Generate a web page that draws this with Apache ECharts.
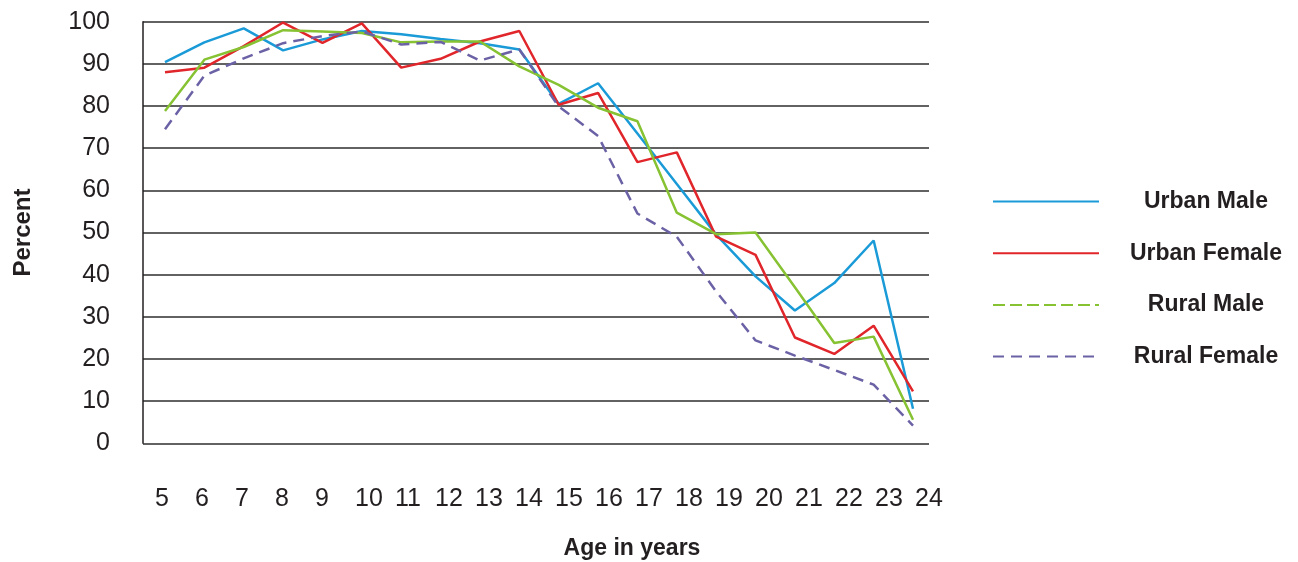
<!DOCTYPE html>
<html>
<head>
<meta charset="utf-8">
<script src="https://cdn.jsdelivr.net/npm/echarts@6/dist/echarts.min.js"></script>
<style>
  html, body { margin: 0; padding: 0; background: #fff; }
  #chart { width: 1298px; height: 562px; }
</style>
</head>
<body>
<div id="chart"></div>
<script>
const ages = [5, 6, 7, 8, 9, 10, 11, 12, 13, 14, 15, 16, 17, 18, 19, 20, 21, 22, 23, 24];
const urbanMale   = [90.4, 95.1, 98.4, 93.2, 95.8, 97.8, 97.0, 95.9, 94.9, 93.4, 80.5, 85.4, 73.5, 61.5, 49.5, 39.6, 31.5, 38.0, 48.1, 8.2];
const urbanFemale = [88.0, 89.1, 94.2, 99.8, 95.0, 99.6, 89.1, 91.2, 95.3, 97.8, 80.3, 83.1, 66.7, 69.0, 49.0, 44.7, 25.1, 21.2, 27.9, 12.3];
const ruralMale   = [78.8, 91.0, 94.0, 98.0, 97.7, 97.3, 95.1, 95.3, 95.3, 89.4, 85.0, 79.6, 76.4, 54.7, 49.6, 50.0, 37.0, 23.8, 25.3, 5.6];
const ruralFemale = [74.5, 87.2, 91.3, 94.9, 96.6, 97.7, 94.6, 95.2, 90.8, 93.4, 79.9, 72.9, 54.5, 49.0, 36.0, 24.4, 20.8, 17.4, 13.9, 4.2];
const yTicks = [0, 10, 20, 30, 40, 50, 60, 70, 80, 90, 100];

const seriesNames = ['Urban Male', 'Urban Female', 'Rural Male', 'Rural Female'];
const seriesValues = [urbanMale, urbanFemale, ruralMale, ruralFemale];
const colors = ['#1a9bd7', '#e1262b', '#86c232', '#6b62a6'];
const dashes = ['solid', 'solid', 'solid', [11, 7]];

const txt = '#231f20';
const chart = echarts.init(document.getElementById('chart'), null, { renderer: 'canvas' });

const pair = vals => ages.map((a, i) => [a, vals[i]]);
const hiddenDot = { color: 'rgba(0,0,0,0)', borderWidth: 0, opacity: 0 };

chart.setOption({
  animation: false,
  backgroundColor: '#ffffff',
  textStyle: { fontFamily: '"Liberation Sans", Arial, sans-serif' },
  title: {
    text: 'Age in years',
    left: 632,
    top: 537,
    padding: 0,
    textAlign: 'center',
    textStyle: { fontSize: 23, fontWeight: 'bold', color: txt, fontFamily: '"Liberation Sans", Arial, sans-serif' }
  },
  legend: {
    orient: 'vertical',
    left: 987,
    top: 185,
    itemWidth: 106,
    itemHeight: 14,
    itemGap: 28.7,
    selectedMode: false,
    itemStyle: hiddenDot,
    formatter: name => '{t|' + name + '}',
    textStyle: {
      color: txt,
      rich: {
        t: { width: 204, align: 'center', fontSize: 23, fontWeight: 'bold', lineHeight: 26, color: txt,
             fontFamily: '"Liberation Sans", Arial, sans-serif' }
      }
    },
    data: [
      { name: 'Urban Male', itemStyle: hiddenDot },
      { name: 'Urban Female', itemStyle: hiddenDot },
      { name: 'Rural Male', itemStyle: hiddenDot, lineStyle: { type: [12, 5] } },
      { name: 'Rural Female', itemStyle: hiddenDot }
    ]
  },
  grid: [
    { left: 143, width: 786, top: 21.7, height: 421.6, containLabel: false },
    { left: 155, width: 760, top: 470, height: 10, show: false }
  ],
  xAxis: [
    {
      gridIndex: 0, type: 'value', min: 4.4412, max: 24.406,
      axisLine: { show: false }, axisTick: { show: false },
      axisLabel: { show: false }, splitLine: { show: false }
    },
    {
      gridIndex: 1, type: 'category', data: ages, boundaryGap: false,
      axisLine: { show: false }, axisTick: { show: false }, splitLine: { show: false },
      axisLabel: { align: 'left', fontSize: 25, color: txt, margin: 7, interval: 0,
                   fontFamily: '"Liberation Sans", Arial, sans-serif' }
    }
  ],
  yAxis: [
    {
      gridIndex: 0, type: 'value', min: 0, max: 100, interval: 10,
      name: 'Percent', nameLocation: 'middle', nameGap: 108,
      nameTextStyle: { fontSize: 24, fontWeight: 'bold', color: txt, fontFamily: '"Liberation Sans", Arial, sans-serif' },
      axisLine: { show: true, lineStyle: { color: txt, width: 1.5 } },
      axisTick: { show: false },
      axisLabel: { fontSize: 25, color: txt, margin: 33,
                   formatter: v => yTicks.includes(v) ? String(v) : '',
                   fontFamily: '"Liberation Sans", Arial, sans-serif' },
      splitLine: { show: true, lineStyle: { color: '#2e2e2e', width: 1.6 } }
    },
    { gridIndex: 1, type: 'value', show: false }
  ],
  series: seriesNames.map((n, k) => ({
    name: n,
    type: 'line',
    xAxisIndex: 0,
    yAxisIndex: 0,
    data: pair(seriesValues[k]),
    symbol: 'none',
    showSymbol: false,
    color: colors[k],
    lineStyle: { color: colors[k], width: 2.5, type: dashes[k] },
    itemStyle: { color: colors[k] }
  }))
});
</script>
</body>
</html>
